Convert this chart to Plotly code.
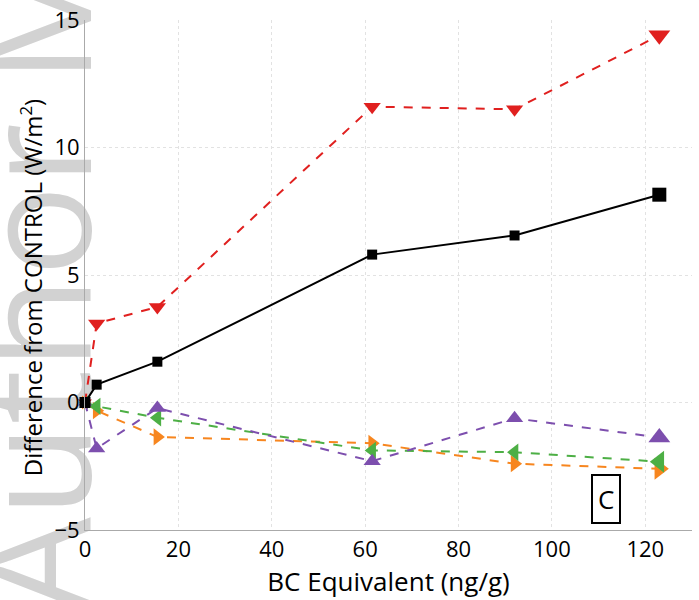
import plotly.graph_objects as go

bc = [0, 2.5, 15.5, 61.5, 92, 123]
black_vals = [0, 0.7, 1.6, 5.8, 6.55, 8.15]
red_vals = [0, 3.1, 3.75, 11.6, 11.5, 14.4]
purple_vals = [0, -1.8, -0.22, -2.3, -0.62, -1.37]
green_vals = [0, -0.15, -0.6, -1.88, -1.95, -2.32]
orange_vals = [0, -0.32, -1.35, -1.6, -2.4, -2.6]

x_ticks = [0, 20, 40, 60, 80, 100, 120]
y_ticks = [-5, 0, 5, 10, 15]

FONT = "Open Sans"

fig = go.Figure()

def add(vals, color, symbol, dash, sizes):
    fig.add_trace(go.Scatter(
        x=bc, y=vals, mode="lines+markers", opacity=1,
        line=dict(color=color, width=2, dash=dash),
        marker=dict(symbol=symbol, size=sizes, color=color, opacity=1,
                    line=dict(width=0)),
        showlegend=False, cliponaxis=False))

tri = [12, 15, 15, 15, 15, 19]
add(orange_vals, "#f7861f", "triangle-right", "dash", tri)
add(green_vals, "#4daf45", "triangle-left", "dash", tri)
add(purple_vals, "#7d4fae", "triangle-up", "dash", tri)
add(red_vals, "#e0201f", "triangle-down", "dash", tri)
add(black_vals, "#000000", "square", "solid", [11, 10, 10, 10, 10, 14])

# watermark behind everything
fig.add_shape(type="rect", xref="paper", yref="paper", x0=-0.15, x1=0.01, y0=-0.16, y1=1.14,
              layer="below", line=dict(width=0), fillcolor="rgba(0,0,0,0)",
              label=dict(text="Author M", textangle=-90, textposition="middle center",
                         font=dict(family=FONT, size=152, color="#d2d2d2")))

fig.add_annotation(x=111.6, y=-3.8, xref="x", yref="y", text="C", showarrow=False,
                   font=dict(family=FONT, size=26, color="black"),
                   bordercolor="black", borderwidth=2, borderpad=5, bgcolor="white")

# y-axis title
fig.add_annotation(x=-0.089, y=0.476, xref="paper", yref="paper", textangle=-90,
                   text="Difference from CONTROL (W/m<sup>2</sup>)", showarrow=False,
                   font=dict(family=FONT, size=24, color="black"),
                   xanchor="center", yanchor="middle")

fig.update_layout(
    width=699, height=600,
    margin=dict(l=85, r=7, t=20, b=70),
    paper_bgcolor="white", plot_bgcolor="white",
    font=dict(family=FONT, size=22, color="black"),
    xaxis=dict(range=[0, 130], tickvals=x_ticks, showgrid=True, gridcolor="#e2e2e2",
               griddash="dot", gridwidth=1, showline=True, linecolor="#aaaaaa", linewidth=1,
               zeroline=False, ticks="", automargin=False,
               title=dict(text="BC Equivalent (ng/g)", standoff=2, font=dict(size=26)),
               tickfont=dict(size=22)),
    yaxis=dict(range=[-5, 15], tickvals=y_ticks, ticktext=["−5", "0", "5", "10", "15"],
               showgrid=True, gridcolor="#e2e2e2",
               griddash="dot", gridwidth=1, showline=True, linecolor="#aaaaaa", linewidth=1,
               zeroline=False, ticks="", automargin=False,
               tickfont=dict(size=22)),
)

fig.write_html("out.html")
